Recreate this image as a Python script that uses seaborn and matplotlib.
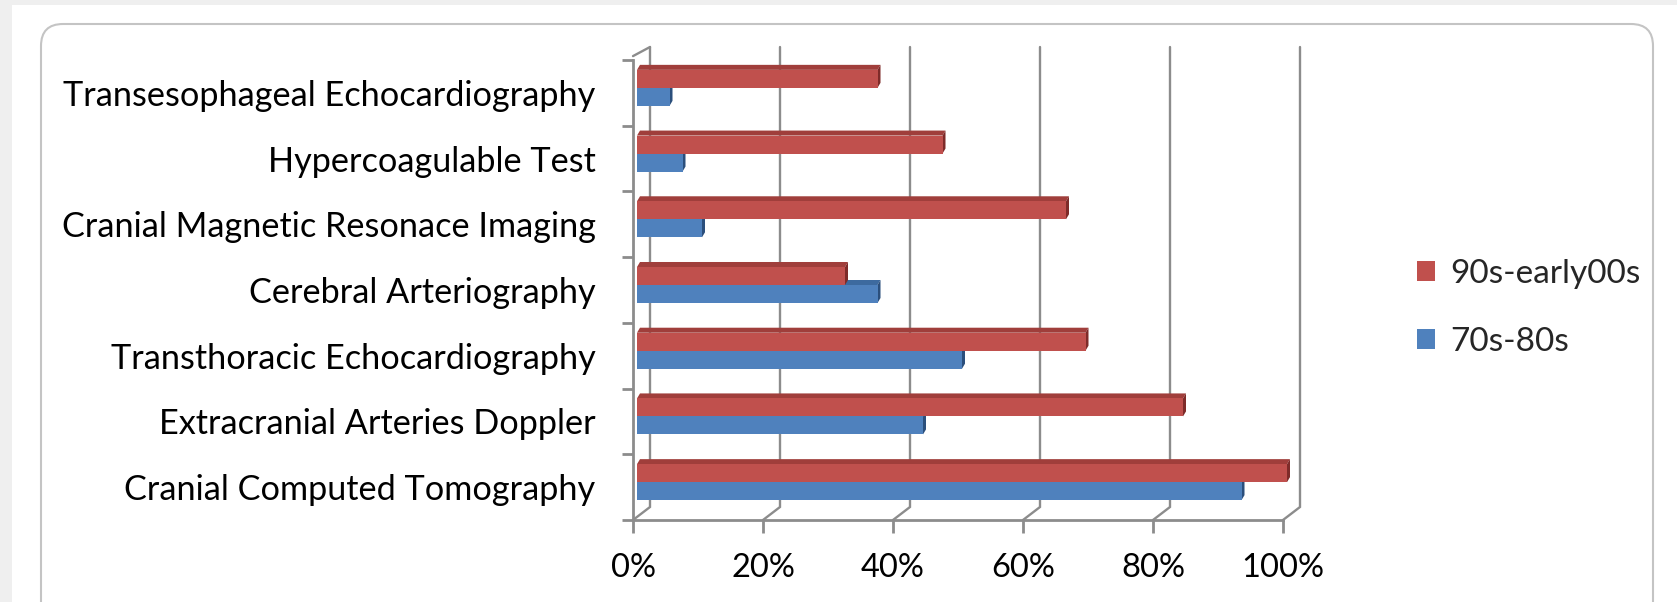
import numpy as np
import pandas as pd
import matplotlib
matplotlib.use("Agg")
import matplotlib.pyplot as plt
import matplotlib.transforms as mtransforms
from matplotlib.patches import Polygon, FancyBboxPatch, Rectangle, Patch
import seaborn as sns

# ---- data -------------------------------------------------------------
categories = [
    "Transesophageal Echocardiography",
    "Hypercoagulable Test",
    "Cranial Magnetic Resonace Imaging",
    "Cerebral Arteriography",
    "Transthoracic Echocardiography",
    "Extracranial Arteries Doppler",
    "Cranial Computed Tomography",
]
series_names = ["90s-early00s", "70s-80s"]
recent_pct = [37, 47, 66, 32, 69, 84, 100]
early_pct = [5, 7, 10, 37, 50, 44, 93]
x_ticks = [0, 20, 40, 60, 80, 100]
x_tick_labels = ["0%", "20%", "40%", "60%", "80%", "100%"]

# ---- style ------------------------------------------------------------
RED, BLUE = "#C0504D", "#4F81BD"
RED_TOP, RED_SIDE = "#A03E3B", "#7E2B29"
BLUE_TOP, BLUE_SIDE = "#3D6A9F", "#2B4F7C"
GRID = "#8c8c8c"

sns.set_theme(style="white")
plt.rcParams["font.family"] = ["Lato", "DejaVu Sans"]

W, H, DPI = 1677, 602, 100
fig = plt.figure(figsize=(W / DPI, H / DPI), dpi=DPI)
fig.patch.set_facecolor("white")

# page background and the rounded frame around the chart
fig.patches.append(Rectangle((0, H - 5), W, 5, transform=None,
                             facecolor="#efefef", edgecolor="none", zorder=-5))
fig.patches.append(Rectangle((0, 0), 12, H, transform=None,
                             facecolor="#efefef", edgecolor="none", zorder=-5))
fig.patches.append(FancyBboxPatch((41, -40), 1653 - 41, H - 24 + 40,
                                  boxstyle="round,pad=0,rounding_size=22",
                                  transform=None, facecolor="none",
                                  edgecolor="#c4c4c4", linewidth=1.5, zorder=-4))

ax = fig.add_axes([633 / W, 82 / H, 650 / W, 460 / H])
ax.set_facecolor("none")
ax.set_zorder(2)

df = pd.DataFrame({
    "test": categories * 2,
    "share": recent_pct + early_pct,
    "period": [series_names[0]] * len(categories) + [series_names[1]] * len(categories),
})

sns.barplot(data=df, x="share", y="test", hue="period", hue_order=series_names,
            palette=[RED, BLUE], orient="h", width=0.548, saturation=1,
            errorbar=None, legend=False, ax=ax)

ax.set_xlim(0, 100)
ax.set_ylim(len(categories) - 0.5, -0.5)
ax.set_xlabel("")
ax.set_ylabel("")

# pixel -> data conversion for the pseudo-3D depth
px_x = 100 / ax.bbox.width
px_y = len(categories) / ax.bbox.height

# bars sit slightly behind the front plane
bar_shift = mtransforms.ScaledTranslation(4 / DPI, 5 / DPI, fig.dpi_scale_trans)
bar_trans = ax.transData + bar_shift
depth_x, depth_y = 3 * px_x, -5 * px_y

face_colors = [(RED_TOP, RED_SIDE), (BLUE_TOP, BLUE_SIDE)]
z_levels = [4, 3]
for container, (top_c, side_c), z in zip(ax.containers, face_colors, z_levels):
    for p in container.patches:
        p.set_transform(bar_trans)
        p.set_zorder(z + 0.2)
        p.set_edgecolor("none")
        p.set_clip_on(False)
        x0, y0, w, h = p.get_x(), p.get_y(), p.get_width(), p.get_height()
        top = Polygon([(x0, y0), (x0 + w, y0), (x0 + w + depth_x, y0 + depth_y),
                       (x0 + depth_x, y0 + depth_y)], closed=True,
                      facecolor=top_c, edgecolor="none", transform=bar_trans,
                      zorder=z, clip_on=False)
        side = Polygon([(x0 + w, y0), (x0 + w, y0 + h),
                        (x0 + w + depth_x, y0 + h + depth_y),
                        (x0 + w + depth_x, y0 + depth_y)], closed=True,
                       facecolor=side_c, edgecolor="none", transform=bar_trans,
                       zorder=z + 0.1, clip_on=False)
        ax.add_patch(top)
        ax.add_patch(side)

# back wall gridlines with floor diagonals
back_x, back_y = 17 * px_x, -13 * px_y
y_top, y_bot = -0.5, len(categories) - 0.5
for v in x_ticks:
    ax.plot([v + back_x, v + back_x, v], [y_top + back_y, y_bot + back_y, y_bot],
            color=GRID, lw=1.7, zorder=1, clip_on=False, solid_joinstyle="miter")
# top edge of the left wall
ax.plot([0, back_x], [y_top + 0.3 * back_y, y_top + back_y],
        color=GRID, lw=1.7, zorder=1, clip_on=False)

# axes, ticks and labels
for side in ("top", "right"):
    ax.spines[side].set_visible(False)
for side in ("left", "bottom"):
    ax.spines[side].set_color(GRID)
    ax.spines[side].set_linewidth(2)

ax.set_xticks(x_ticks, labels=x_tick_labels)
ax.set_yticks(np.arange(-0.5, len(categories), 1), labels=[])
ax.set_yticks(np.arange(len(categories)), labels=categories, minor=True)
ax.tick_params(axis="x", length=9, width=2, color=GRID, pad=15,
               labelsize=23.5, labelcolor="black", direction="out", bottom=True)
ax.tick_params(axis="y", which="major", length=8, width=2, color=GRID,
               direction="out", left=True)
ax.tick_params(axis="y", which="minor", length=0, pad=27, labelsize=24.7,
               labelcolor="black", left=True)

handles = [Patch(facecolor=RED, edgecolor="none"), Patch(facecolor=BLUE, edgecolor="none")]
fig.legend(handles, series_names, loc="center left",
           bbox_to_anchor=(1417 / W, (H - 308) / H), frameon=False,
           fontsize=24, handlelength=0.55, handleheight=0.55, handletextpad=0.45,
           labelspacing=1.15, borderpad=0, borderaxespad=0)

fig.savefig("out.png", dpi=DPI, facecolor="white")
